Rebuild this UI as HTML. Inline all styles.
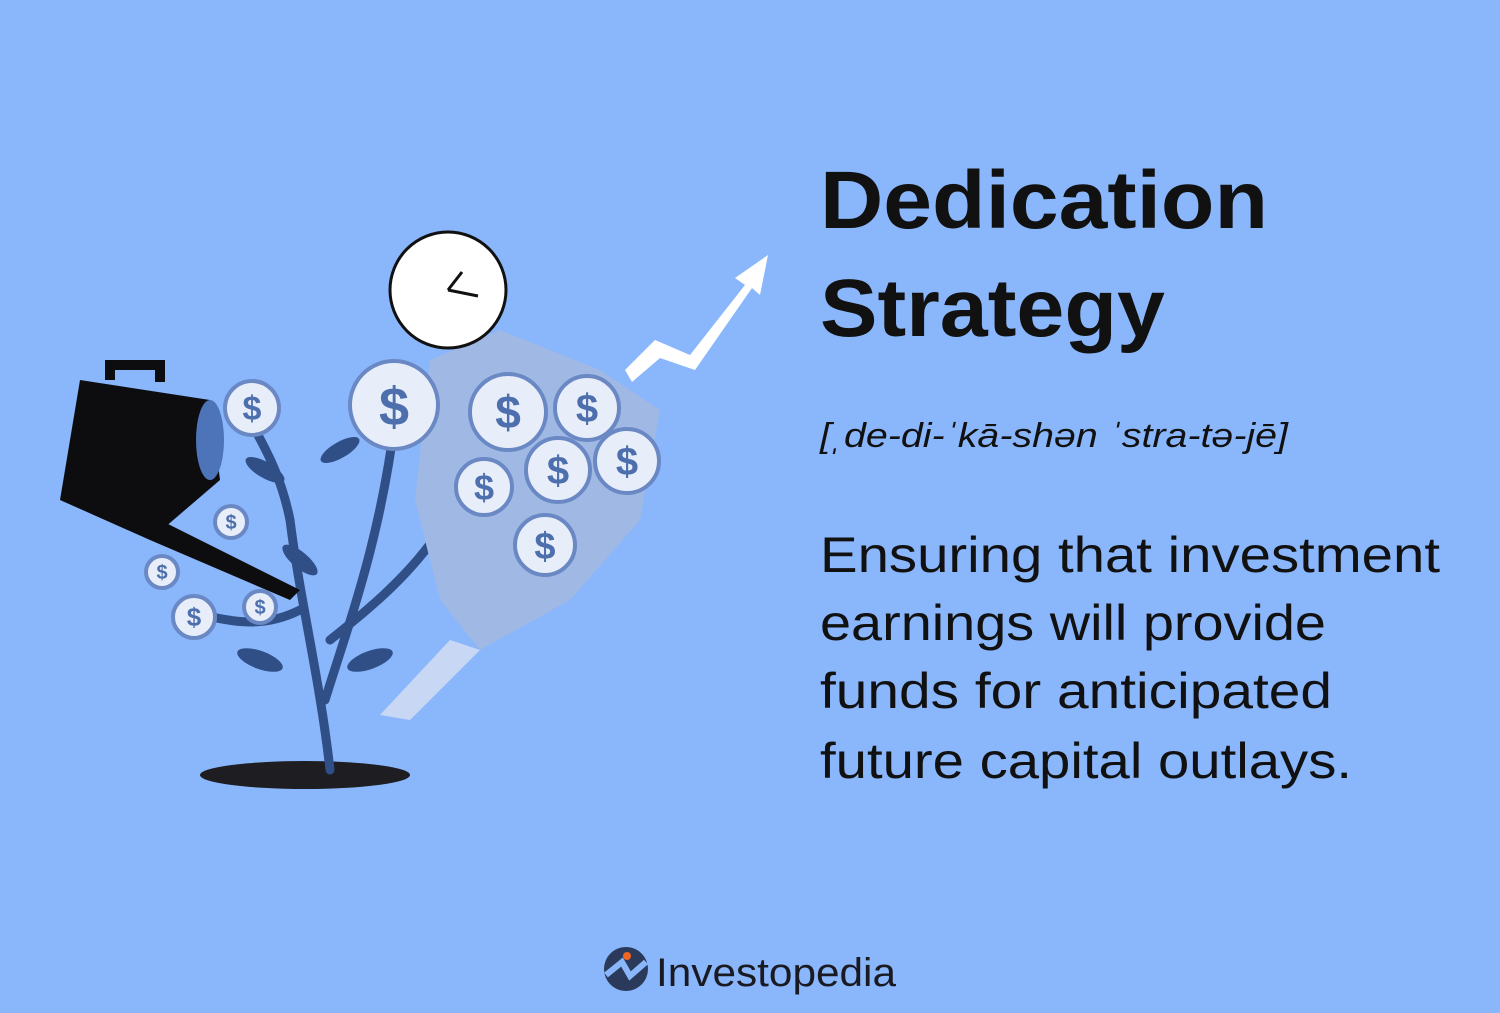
<!DOCTYPE html>
<html><head><meta charset="utf-8"><style>
html,body{margin:0;padding:0;background:#8ab6fb;width:1500px;height:1013px;overflow:hidden}
svg{display:block}
text{font-family:"Liberation Sans",sans-serif;fill:#111}
</style></head><body>
<svg width="1500" height="1013" viewBox="0 0 1500 1013">
<rect width="1500" height="1013" fill="#8ab6fb"/>
<g>
 <ellipse cx="305" cy="775" rx="105" ry="14" fill="#1d1d22"/>
 <g stroke="#2f4f86" stroke-width="9" fill="none" stroke-linecap="round">
  <path d="M330 770 C320 680 300 600 290 520 C280 470 260 440 250 420"/>
  <path d="M325 700 C350 620 380 540 395 420"/>
  <path d="M300 610 C260 630 230 620 200 615"/>
  <path d="M330 640 C380 600 430 560 470 480"/>
 </g>
 <g fill="#2f4f86">
  <ellipse cx="265" cy="470" rx="22" ry="8" transform="rotate(30 265 470)"/>
  <ellipse cx="340" cy="450" rx="22" ry="8" transform="rotate(-30 340 450)"/>
  <ellipse cx="260" cy="660" rx="24" ry="9" transform="rotate(20 260 660)"/>
  <ellipse cx="370" cy="660" rx="24" ry="9" transform="rotate(-20 370 660)"/>
  <ellipse cx="300" cy="560" rx="22" ry="8" transform="rotate(40 300 560)"/>
 </g>
 <path d="M430 360 L500 330 L600 370 L660 410 L640 520 L570 600 L480 650 L440 600 L415 500 Z" fill="#9fb8e4"/>
 <path d="M380 715 L450 640 L480 650 L410 720 Z" fill="#c8d8f4"/>
 <path d="M80 380 L210 400 L220 480 L150 540 L60 500 Z" fill="#0d0d10"/>
 <path d="M110 380 L110 365 L160 365 L160 382" stroke="#0d0d10" stroke-width="10" fill="none"/>
 <path d="M160 520 L300 590 L290 600 L150 540 Z" fill="#0d0d10"/>
 <ellipse cx="210" cy="440" rx="14" ry="40" fill="#4d74b8"/>
 <circle cx="448" cy="290" r="58" fill="#fff" stroke="#111" stroke-width="3"/>
 <path d="M448 290 L462 272 M448 290 L478 296" stroke="#111" stroke-width="3"/>
 <path d="M625 370 L655 340 L690 355 L745 285 L735 278 L768 255 L760 295 L752 288 L695 370 L660 358 L632 382 Z" fill="#fff"/>
 <g fill="#e8eef9" stroke="#6a88c4" stroke-width="4">
  <circle cx="252" cy="408" r="27"/><circle cx="394" cy="405" r="44"/>
  <circle cx="508" cy="412" r="38"/><circle cx="587" cy="408" r="32"/>
  <circle cx="484" cy="487" r="28"/><circle cx="558" cy="470" r="32"/>
  <circle cx="627" cy="461" r="32"/><circle cx="545" cy="545" r="30"/>
  <circle cx="231" cy="522" r="16"/><circle cx="162" cy="572" r="16"/>
  <circle cx="194" cy="617" r="21"/><circle cx="260" cy="607" r="16"/>
 </g>
 <g fill="#4d6fae" font-weight="bold" text-anchor="middle">
  <text x="252" y="420" font-size="34" style="fill:#4d6fae">$</text>
  <text x="394" y="425" font-size="54" style="fill:#4d6fae">$</text>
  <text x="508" y="428" font-size="46" style="fill:#4d6fae">$</text>
  <text x="587" y="422" font-size="40" style="fill:#4d6fae">$</text>
  <text x="484" y="500" font-size="36" style="fill:#4d6fae">$</text>
  <text x="558" y="484" font-size="40" style="fill:#4d6fae">$</text>
  <text x="627" y="475" font-size="40" style="fill:#4d6fae">$</text>
  <text x="545" y="559" font-size="38" style="fill:#4d6fae">$</text>
  <text x="231" y="529" font-size="20" style="fill:#4d6fae">$</text>
  <text x="162" y="579" font-size="20" style="fill:#4d6fae">$</text>
  <text x="194" y="626" font-size="26" style="fill:#4d6fae">$</text>
  <text x="260" y="614" font-size="20" style="fill:#4d6fae">$</text>
 </g>
</g>
<text x="820" y="228" font-size="82" font-weight="bold" textLength="448" lengthAdjust="spacingAndGlyphs">Dedication</text>
<text x="820" y="336" font-size="82" font-weight="bold" textLength="345" lengthAdjust="spacingAndGlyphs">Strategy</text>
<text x="820" y="447" font-size="34" font-style="italic" textLength="468" lengthAdjust="spacingAndGlyphs">[ˌde-di-ˈkā-shən ˈstra-tə-jē]</text>
<g font-size="50">
 <text x="820" y="572" textLength="620" lengthAdjust="spacingAndGlyphs">Ensuring that investment</text>
 <text x="820" y="640" textLength="506" lengthAdjust="spacingAndGlyphs">earnings will provide</text>
 <text x="820" y="708" textLength="512" lengthAdjust="spacingAndGlyphs">funds for anticipated</text>
 <text x="820" y="778" textLength="532" lengthAdjust="spacingAndGlyphs">future capital outlays.</text>
</g>
<g>
 <circle cx="626" cy="969" r="22" fill="#2b3a5a"/>
 <path d="M606 975 L622 962 L630 976 L646 962" stroke="#8ab6fb" stroke-width="6" fill="none"/>
 <circle cx="627" cy="956" r="4" fill="#f26522"/>
 <text x="656" y="986" font-size="40" textLength="240" lengthAdjust="spacingAndGlyphs" style="fill:#1a1a22">Investopedia</text>
</g>
</svg>
</body></html>
